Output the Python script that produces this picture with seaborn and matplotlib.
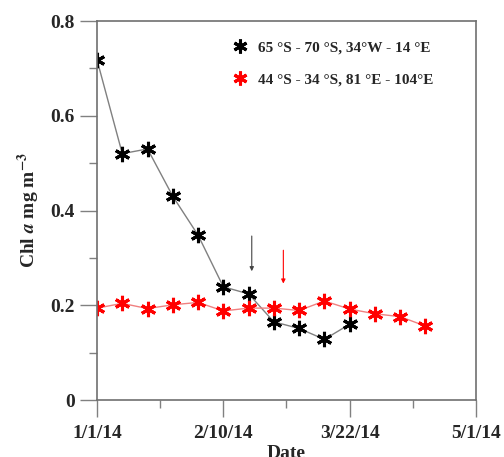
import matplotlib
matplotlib.use("Agg")
import matplotlib.pyplot as plt
import matplotlib.dates as mdates
import seaborn as sns
import pandas as pd
import numpy as np

# ---- data ----
black_dates = ["2014-01-01", "2014-01-09", "2014-01-17", "2014-01-25", "2014-02-02",
               "2014-02-10", "2014-02-18", "2014-02-26", "2014-03-06", "2014-03-14",
               "2014-03-22"]
black_vals = [0.718, 0.52, 0.53, 0.43, 0.348, 0.239, 0.224, 0.165, 0.151, 0.128, 0.160]

red_dates = ["2014-01-01", "2014-01-09", "2014-01-17", "2014-01-25", "2014-02-02",
             "2014-02-10", "2014-02-18", "2014-02-26", "2014-03-06", "2014-03-14",
             "2014-03-22", "2014-03-30", "2014-04-07", "2014-04-15"]
red_vals = [0.194, 0.204, 0.193, 0.201, 0.206, 0.188, 0.194, 0.194, 0.189, 0.209,
            0.192, 0.182, 0.176, 0.156]

black_label = "65 °S - 70 °S, 34°W - 14 °E"
red_label = "44 °S - 34 °S, 81 °E - 104°E"

# arrows: (date, y_top, y_bottom)
black_arrow = ("2014-02-19", 0.352, 0.266)
red_arrow = ("2014-03-01", 0.322, 0.240)

xtick_dates = ["2014-01-01", "2014-02-10", "2014-03-22", "2014-05-01"]
ytick_vals = [0, 0.2, 0.4, 0.6, 0.8]

df_b = pd.DataFrame({"date": pd.to_datetime(black_dates), "chl": black_vals})
df_r = pd.DataFrame({"date": pd.to_datetime(red_dates), "chl": red_vals})

sns.set_style("ticks", {"axes.spines.top": True, "axes.spines.right": True})
plt.rcParams["font.family"] = ["Liberation Serif", "DejaVu Serif"]
plt.rcParams["font.weight"] = "bold"
plt.rcParams["mathtext.fontset"] = "stix"

fig = plt.figure(figsize=(5.04, 4.57), dpi=100)
ax = fig.add_axes([0.1925, 0.1247, 0.7519, 0.8293])

star = (6, 2, 0)
sns.lineplot(data=df_b, x="date", y="chl", ax=ax, color="#808080", lw=1,
             marker=star, markersize=11, markeredgewidth=2.2,
             markeredgecolor="black", label=black_label)
sns.lineplot(data=df_r, x="date", y="chl", ax=ax, color="#f08080", lw=1,
             marker=star, markersize=11, markeredgewidth=2.2,
             markeredgecolor="red", label=red_label)

for (d, y0, y1), c in [(black_arrow, "#444444"), (red_arrow, "red")]:
    xd = mdates.date2num(pd.Timestamp(d))
    ax.annotate("", xy=(xd, y1), xytext=(xd, y0),
                arrowprops=dict(arrowstyle="-|>", color=c, lw=0.8,
                                mutation_scale=6))

ax.set_xlim(pd.Timestamp("2014-01-01"), pd.Timestamp("2014-05-01"))
ax.set_ylim(0, 0.8)
xt = pd.to_datetime(xtick_dates)
ax.set_xticks(xt)
ax.set_xticklabels([f"{t.month}/{t.day}/{t.strftime('%y')}" for t in xt],
                   fontsize=14, fontweight="bold")
minor_x = [pd.Timestamp("2014-01-21"), pd.Timestamp("2014-03-02"),
           pd.Timestamp("2014-04-11")]
ax.set_xticks(minor_x, minor=True)
ax.set_yticks(ytick_vals)
ax.set_yticklabels(["0", "0.2", "0.4", "0.6", "0.8"], fontsize=14, fontweight="bold")
ax.set_yticks([0.1, 0.3, 0.5, 0.7], minor=True)

ax.tick_params(axis="x", which="major", direction="out", length=12, width=1,
               color="#808080", pad=6)
ax.tick_params(axis="y", which="major", direction="out", length=12, width=1,
               color="#808080", pad=4)
ax.tick_params(which="minor", direction="out", length=6, width=1, color="#808080")
for name in ["left", "right", "top", "bottom"]:
    sp = ax.spines[name]
    sp.set_visible(True)
    sp.set_color("#707070")
    sp.set_linewidth(1.2)

ax.set_xlabel("Date", fontsize=14, fontweight="bold", labelpad=2)
ax.set_ylabel(r"Chl $\mathbfit{a}$ mg m$^{\mathbf{-3}}$", fontsize=14,
              fontweight="bold", labelpad=6)

leg = ax.legend(loc="upper left", bbox_to_anchor=(0.32, 0.985), frameon=False,
                prop={"family": "Liberation Serif", "weight": "bold", "size": 11},
                handlelength=1.0, labelspacing=1.2, handletextpad=0.7)
for h in leg.legend_handles:
    h.set_linestyle("none")
    h.set_markersize(10)

fig.savefig("out.png", dpi=100)
